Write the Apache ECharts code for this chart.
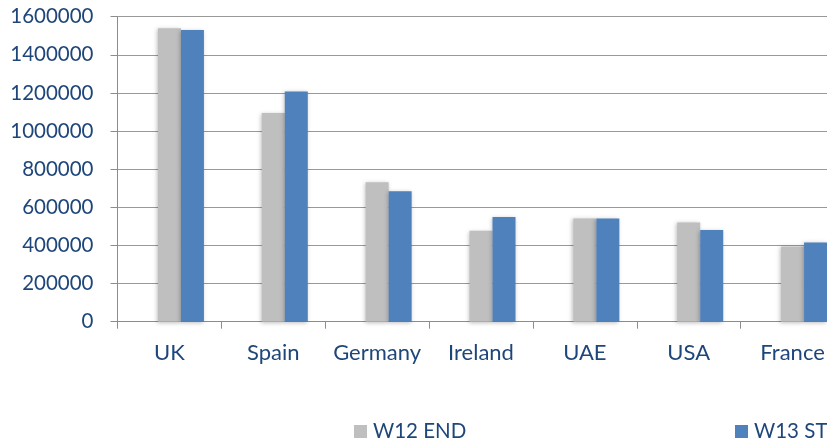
<!DOCTYPE html>
<html>
<head>
<meta charset="utf-8">
<script src="https://cdn.jsdelivr.net/npm/echarts@6/dist/echarts.min.js"></script>
<style>
html, body { margin: 0; padding: 0; background: #fff; overflow: hidden; }
/* the source plot runs past the right edge of the picture, so the canvas is a bit wider than the window */
#main { width: 845px; height: 441px; }
</style>
</head>
<body>
<div id="main"></div>
<script>
var countries = ['UK', 'Spain', 'Germany', 'Ireland', 'UAE', 'USA', 'France'];
var w12End = [1539000, 1095000, 731000, 477000, 542000, 521000, 395000];
var w13St = [1530000, 1208000, 684000, 549000, 542000, 481000, 416000];
var yTicks = [0, 1600000, 200000]; // min, max, step

var textColor = '#1F467A';
var chart = echarts.init(document.getElementById('main'));

var barShadow = {
    shadowColor: 'rgba(0,0,0,0.25)',
    shadowBlur: 4,
    shadowOffsetX: -1,
    shadowOffsetY: 1
};

var legendBase = {
    top: 416,
    icon: 'rect',
    itemWidth: 13,
    itemHeight: 13,
    itemGap: 0,
    textStyle: { color: textColor, fontSize: 20.5, fontFamily: 'Lato', padding: [0, 0, 0, 1] }
};

var option = {
    animation: false,
    textStyle: { fontFamily: 'Lato' },
    grid: {
        left: 117.5,
        top: 16.7,
        right: 0.5,
        bottom: 119.3,
        containLabel: false
    },
    legend: [
        Object.assign({ data: ['W12 END'], left: 349 }, legendBase),
        Object.assign({ data: ['W13 ST'], left: 730 }, legendBase)
    ],
    xAxis: {
        type: 'category',
        data: countries,
        axisLine: { lineStyle: { color: '#8c8c8c', width: 1 } },
        axisTick: { show: true, length: 7, interval: 0, lineStyle: { color: '#8c8c8c' } },
        axisLabel: {
            color: textColor, fontSize: 22, margin: 20, fontFamily: 'Lato',
            interval: 0, hideOverlap: false
        }
    },
    yAxis: {
        type: 'value',
        min: yTicks[0],
        max: yTicks[1],
        interval: yTicks[2],
        axisLine: { show: true, lineStyle: { color: '#8c8c8c', width: 1 } },
        axisTick: { show: true, length: 7, lineStyle: { color: '#8c8c8c' } },
        axisLabel: {
            color: textColor, fontSize: 20.5, margin: 24, fontFamily: 'Lato',
            formatter: function (v) { return String(v); }
        },
        splitLine: { lineStyle: { color: '#999', width: 1.2 } }
    },
    series: [
        {
            // empty spacer so the pair sits right of the category centre, as in the source
            name: 'spacer',
            type: 'bar',
            barWidth: 23,
            barGap: 0,
            silent: true,
            itemStyle: { color: 'transparent' },
            data: countries.map(function () { return '-'; })
        },
        {
            name: 'W12 END',
            type: 'bar',
            barWidth: 23,
            barGap: 0,
            itemStyle: Object.assign({ color: '#BFBFBF' }, barShadow),
            data: w12End
        },
        {
            name: 'W13 ST',
            type: 'bar',
            barWidth: 23,
            barGap: 0,
            itemStyle: Object.assign({ color: '#4F81BD' }, barShadow),
            data: w13St
        }
    ]
};

chart.setOption(option);
</script>
</body>
</html>
